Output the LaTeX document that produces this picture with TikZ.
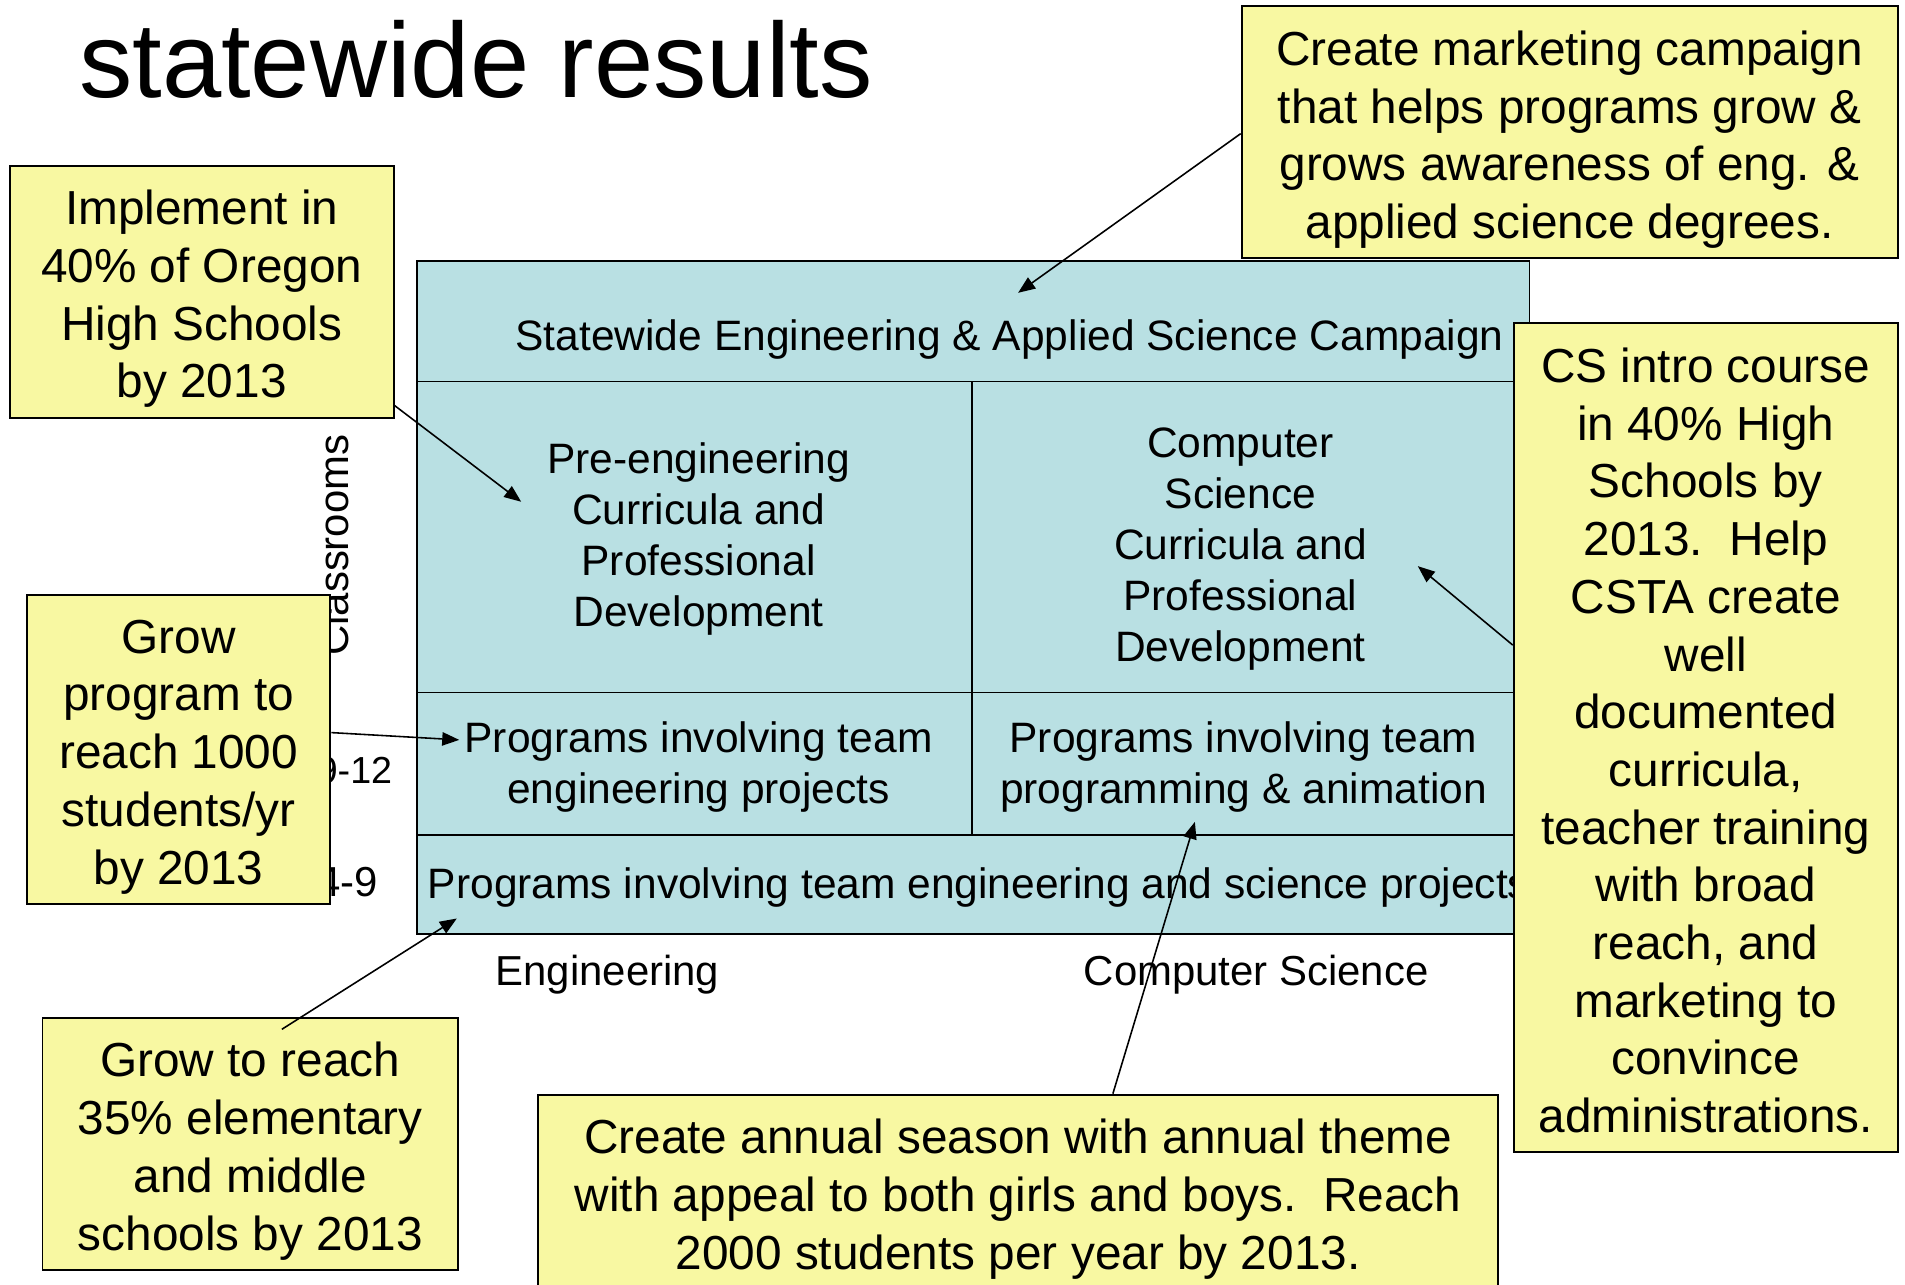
\documentclass[tikz,border=0pt]{standalone}
\usepackage{fontspec}
\setmainfont{Liberation Sans}
\usetikzlibrary{arrows.meta,calc}
\definecolor{bfill}{RGB}{185,224,227}
\definecolor{yfill}{RGB}{248,248,162}
\tikzset{
  ybox/.style={draw=black, line width=1.6pt, fill=yfill, inner sep=0pt},
  ytext/.style={align=center, inner sep=0pt, font=\fontsize{39.3}{47.5}\selectfont},
  cell/.style={draw=black, line width=1.4pt, fill=bfill, inner sep=0pt},
  ctext/.style={align=center, inner sep=0pt, font=\fontsize{35}{42}\selectfont},
  lbl/.style={inner sep=0pt, font=\fontsize{34.5}{40}\selectfont},
  arr/.style={-{Triangle[length=14pt,width=11pt]}, line width=1.3pt}
}
\begin{document}
\begin{tikzpicture}[x=1pt,y=-1pt]
\clip (0,0) rectangle (1568,1057.6);
\fill[white] (0,0) rectangle (1568,1057.6);

% title
\node[anchor=base west, inner sep=0pt, font=\fontsize{87.7}{100}\selectfont] (title) at (65,80) {statewide results};

% table cells
\node[cell, minimum width=916, minimum height=99] (top) at (801,264.5) {};
\node[cell, minimum width=457, minimum height=256] (pe) at (571.5,442) {};
\node[cell, minimum width=459, minimum height=256] (cs) at (1029.5,442) {};
\node[cell, minimum width=457, minimum height=117] (pe2) at (571.5,628.5) {};
\node[cell, minimum width=459, minimum height=117] (cs2) at (1029.5,628.5) {};
\node[cell, minimum width=916, minimum height=82] (bot) at (801,728) {};

% cell texts
\node[ctext, anchor=base] (topT) at (831,288.5) {Statewide Engineering \& Applied Science Campaign};
\node[ctext] (peT) at (575,444) {Pre-engineering\\Curricula and\\Professional\\Development};
\node[ctext] (csT) at (1021,452) {Computer\\Science\\Curricula and\\Professional\\Development};
\node[ctext] (pe2T) at (575,631) {Programs involving team\\engineering projects};
\node[ctext] (cs2T) at (1023.5,631) {Programs involving team\\programming \& animation};
\node[ctext, anchor=base west] (botT) at (352,739.5) {Programs involving team engineering and science projects};

% axis labels
\node[lbl, anchor=base] (engL) at (500,811) {Engineering};
\node[lbl, anchor=base] (csL) at (1034,811) {Computer Science};
\node[lbl, anchor=base east, font=\fontsize{31}{36}\selectfont] (g912) at (323,645) {9-12};
\node[lbl, anchor=base east] (g49) at (311.5,738) {4-9};
\node[lbl, rotate=90, anchor=base west] (clsL) at (287,540) {Classrooms};

% yellow boxes
\node[ybox, minimum width=540, minimum height=207] (mk) at (1292,108.5) {};
\node[ytext] (mkT) at (1292,115)
  {Create marketing campaign\\that helps programs grow \&\\grows awareness of eng. \&\\applied science degrees.};
\node[ybox, minimum width=316, minimum height=207] (impl) at (166,240.5) {};
\node[ytext] (implT) at (166,246)
  {Implement in\\40\% of Oregon\\High Schools\\by 2013};
\node[ybox, minimum width=250, minimum height=254] (grow) at (147,617) {};
\node[ytext] (growT) at (147,623)
  {Grow\\program to\\reach 1000\\students/yr\\by 2013};
\node[ybox, minimum width=342, minimum height=207] (reach) at (206,941.5) {};
\node[ytext] (reachT) at (206,947.5)
  {Grow to reach\\35\% elementary\\and middle\\schools by 2013};
\node[ybox, minimum width=790, minimum height=166] (annual) at (838,984) {};
\node[ytext] (annualT) at (838,987)
  {Create annual season with annual theme\\with appeal to both girls and boys.\ \ Reach\\2000 students per year by 2013.};
\node[ybox, minimum width=316, minimum height=682] (csi) at (1404,607) {};
\node[ytext] (csiT) at (1404,609.5)
  {CS intro course\\in 40\% High\\Schools by\\2013.\ \ Help\\CSTA create\\well\\documented\\curricula,\\teacher training\\with broad\\reach, and\\marketing to\\convince\\administrations.};

% arrow tips
\coordinate (tMk) at (838,241);
\coordinate (tImpl) at (429,413);
\coordinate (tGrow) at (378,609);
\coordinate (tReach) at (376,756);
\coordinate (tCsi) at (1167,466);
\coordinate (tAnn) at (983.5,676.5);

% arrows
\draw[arr] ($(mk.west)+(0,1.5)$) -- (tMk);
\draw[arr] ($(impl.south east)+(0,-11)$) -- (tImpl);
\draw[arr] ($(grow.east)+(0,-14)$) -- (tGrow);
\draw[arr] ($(reach.north)+(26,10)$) -- (tReach);
\draw[arr] ($(csi.west)+(0,-76)$) -- (tCsi);
\draw[arr] ($(annual.north)+(78,0)$) -- (tAnn);
\end{tikzpicture}
\end{document}
